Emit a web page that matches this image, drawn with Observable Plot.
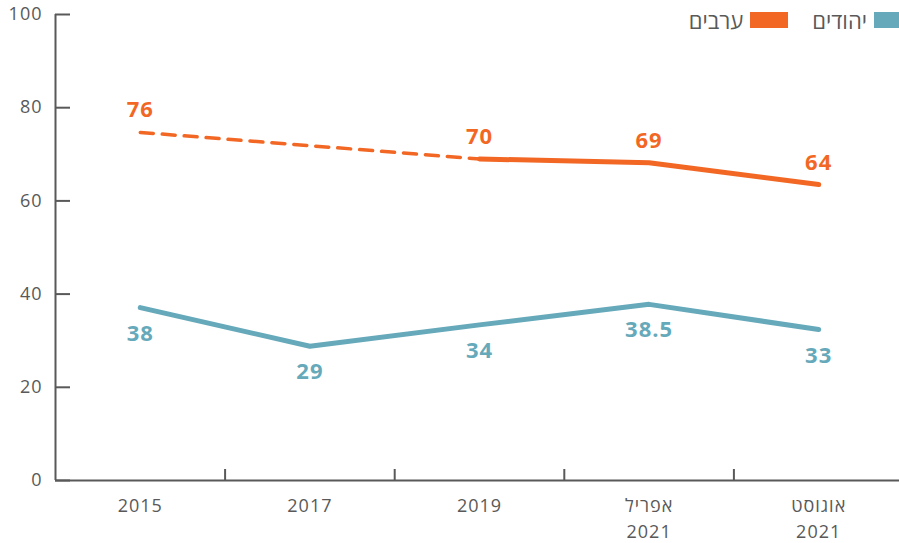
<!DOCTYPE html>
<html><head><meta charset="utf-8">
<script src="https://cdn.jsdelivr.net/npm/d3@7"></script>
<script src="https://cdn.jsdelivr.net/npm/@observablehq/plot@0.6"></script>
<style>
body{margin:0;background:#fff;font-family:"Open Sans",sans-serif;}
#wrap{position:relative;width:899px;height:543px;overflow:hidden;}
#legend{position:absolute;top:7px;right:-13px;display:flex;direction:rtl;align-items:center;font-size:22px;color:#595959;line-height:26px;}
#legend .sw{width:38px;height:16px;margin-left:7px;}
#legend .lab{margin-left:24px;}
</style></head><body><div id="wrap"><div id="legend"></div></div>
<script>
const categories = ["2015", "2017", "2019", "אפריל\n2021", "אוגוסט\n2021"];
const jewsValues = [37.1, 28.8, 33.4, 37.8, 32.4];
const jewsLabels = ["38", "29", "34", "38.5", "33"];
const arabValues = [74.7, null, 69.0, 68.2, 63.5];
const arabLabels = ["76", null, "70", "69", "64"];
const yTicks = [0, 20, 40, 60, 80, 100];
const seriesNames = ["יהודים", "ערבים"];
const colors = ["#65A9BA", "#F26724"];
const axisColor = "#595959";

const idx = categories.map((_, i) => i);
const bounds = idx.slice(0, -1).map(i => i + 0.5);
const jewsRows = idx.map(i => ({i, v: jewsValues[i], t: jewsLabels[i]}));
const arabRows = idx.filter(i => arabValues[i] != null).map(i => ({i, v: arabValues[i], t: arabLabels[i]}));
const arabDashed = arabRows.filter(d => d.i <= 2);
const arabSolid = arabRows.filter(d => d.i >= 2);

const chart = Plot.plot({
  width: 899,
  height: 543,
  marginTop: 14,
  marginBottom: 63,
  marginLeft: 55,
  marginRight: -4,
  style: {fontFamily: "'Open Sans', sans-serif", fontSize: "18px", color: axisColor, background: "#fff", letterSpacing: "1px"},
  x: {domain: [-0.5, categories.length - 0.5], axis: null},
  y: {domain: [0, 100], axis: null},
  marks: [
    Plot.ruleX([-0.5], {stroke: axisColor, strokeWidth: 2}),
    Plot.ruleY([0], {stroke: axisColor, strokeWidth: 2}),
    Plot.ruleY(yTicks, {y: d => d, x1: -0.5, x2: -0.5, insetRight: -15, stroke: axisColor, strokeWidth: 2}),
    Plot.ruleX(bounds, {x: d => d, y1: 0, y2: 0, insetTop: -11, stroke: axisColor, strokeWidth: 2}),
    Plot.axisY(yTicks, {tickSize: 0, tickPadding: 13, label: null, fontSize: 18}),
    Plot.axisX(idx, {tickSize: 0, tickPadding: 13, tickFormat: i => categories[i], lineHeight: 1.45, label: null, fontSize: 18}),
    Plot.line(jewsRows, {x: "i", y: "v", stroke: colors[0], strokeWidth: 5, strokeLinecap: "round", strokeLinejoin: "round"}),
    Plot.line(arabDashed, {x: "i", y: "v", stroke: colors[1], strokeWidth: 3.5, strokeDasharray: "13,9"}),
    Plot.line(arabSolid, {x: "i", y: "v", stroke: colors[1], strokeWidth: 5, strokeLinecap: "round", strokeLinejoin: "round"}),
    Plot.text(arabRows, {x: "i", y: "v", text: "t", dy: -22, fill: colors[1], fontWeight: "bold", fontSize: 22}),
    Plot.text(jewsRows, {x: "i", y: "v", text: "t", dy: 26, fill: colors[0], fontWeight: "bold", fontSize: 22})
  ]
});
const wrap = document.getElementById("wrap");
wrap.insertBefore(chart, wrap.firstChild);

const legend = document.getElementById("legend");
seriesNames.forEach((name, k) => {
  const sw = document.createElement("div");
  sw.className = "sw";
  sw.style.background = colors[k];
  const lab = document.createElement("div");
  lab.className = "lab";
  lab.textContent = name;
  legend.appendChild(sw);
  legend.appendChild(lab);
});
</script>
</body></html>
